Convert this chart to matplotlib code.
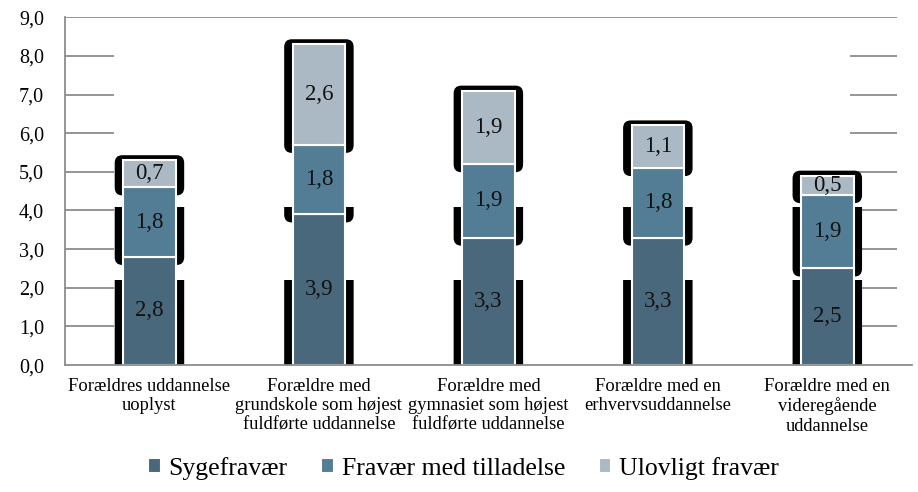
import matplotlib.pyplot as plt
from matplotlib.patches import FancyBboxPatch, Rectangle

plt.rcParams['font.family'] = ['Liberation Serif', 'DejaVu Serif']

# data
categories = ['Forældres uddannelse\nuoplyst',
              'Forældre med\ngrundskole som højest\nfuldførte uddannelse',
              'Forældre med\ngymnasiet som højest\nfuldførte uddannelse',
              'Forældre med en\nerhvervsuddannelse',
              'Forældre med en\nvideregående\nuddannelse']
syge = [2.8, 3.9, 3.3, 3.3, 2.5]
tilladelse = [1.8, 1.8, 1.9, 1.8, 1.9]
ulovligt = [0.7, 2.6, 1.9, 1.1, 0.5]
series = [('Sygefravær', syge, '#4a687c'),
          ('Fravær med tilladelse', tilladelse, '#537d94'),
          ('Ulovligt fravær', ulovligt, '#aab9c3')]
yticks = list(range(10))

fig = plt.figure(figsize=(9.18, 4.92), dpi=100)
ax = fig.add_axes([0.0705, 0.258, 0.923, 0.707])

x = list(range(len(categories)))
bar_w = 0.31
shadow_w = 0.41
# the black "shadow" pieces are cut off above these heights (bottom, middle, top)
caps = [2.2, 4.09, 99]

bottoms = [0.0] * len(x)
for (name, vals, col), cap in zip(series, caps):
    for i, v in enumerate(vals):
        b = bottoms[i]
        t = b + v
        lo = b - 0.21
        hi = t + 0.13
        sh = FancyBboxPatch((i - shadow_w / 2, lo), shadow_w, hi - lo,
                            boxstyle='round,pad=0,rounding_size=0.045',
                            mutation_aspect=4.5, fc='black', ec='none', zorder=2)
        ax.add_patch(sh)
        clip = Rectangle((i - 1, 0), 2, cap, transform=ax.transData)
        sh.set_clip_path(clip)
    ax.bar(x, vals, bar_w, bottom=bottoms, color=col, edgecolor='white',
           linewidth=1.5, label=name, zorder=3)
    for i, v in enumerate(vals):
        ax.text(i, bottoms[i] + v / 2, f'{v:.1f}'.replace('.', ','),
                ha='center', va='center', fontsize=16.5, color='#111111', zorder=4)
    bottoms = [bottoms[i] + vals[i] for i in x]

# gridlines: only visible at the outer ends, full line at the top
grid_kw = dict(color='#8c8c8c', linewidth=1.3, zorder=1)
ax.hlines(yticks[1:-1], -0.5, -0.21, **grid_kw)
ax.hlines(yticks[1:-1], 4.135, 4.41, **grid_kw)
ax.hlines(yticks[-1], -0.5, 4.41, **grid_kw)

ax.set_xlim(-0.5, len(x) - 0.5)
ax.set_ylim(0, 9)
ax.set_yticks(yticks)
ax.set_yticklabels([f'{v:.1f}'.replace('.', ',') for v in yticks], fontsize=14.5)
ax.set_xticks(x)
ax.set_xticklabels(categories, fontsize=13.3, linespacing=1.2)
ax.tick_params(axis='both', length=0)
ax.tick_params(axis='x', pad=9)
ax.tick_params(axis='y', pad=15)
for s in ['top', 'right']:
    ax.spines[s].set_visible(False)
for s in ['left', 'bottom']:
    ax.spines[s].set_color('#8c8c8c')
    ax.spines[s].set_linewidth(1.3)
    ax.spines[s].set_zorder(5)

fig.legend(loc='center', bbox_to_anchor=(0.505, 0.048), ncol=3, frameon=False,
           fontsize=18.5, handlelength=0.5, handleheight=0.5, handletextpad=0.3,
           columnspacing=1.3)

fig.savefig('out.png', dpi=100)
